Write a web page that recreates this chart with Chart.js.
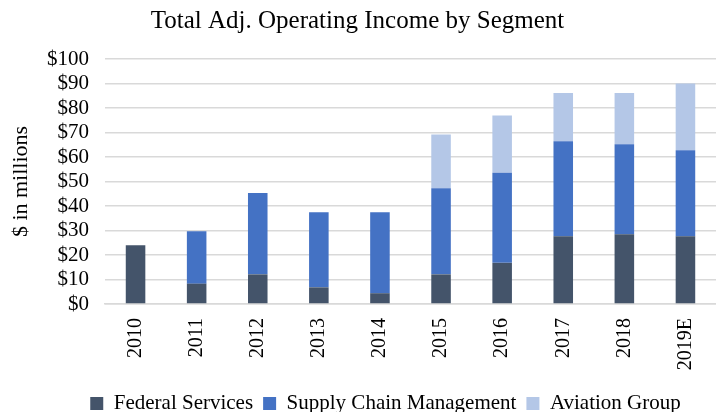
<!DOCTYPE html>
<html>
<head>
<meta charset="utf-8">
<script src="https://cdn.jsdelivr.net/npm/chart.js@4"></script>
<style>
  body { margin: 0; background: #fff; }
</style>
</head>
<body>
<canvas id="myChart" width="716" height="412"></canvas>
<script>
'use strict';

let years = ['2010', '2011', '2012', '2013', '2014', '2015', '2016', '2017', '2018', '2019E'];
let federalServices = [24, 8.3, 12.1, 6.8, 4.4, 12.1, 16.8, 27.7, 28.5, 27.7];
let supplyChain = [0, 21.4, 33.2, 30.7, 33.1, 35.1, 36.8, 38.7, 36.7, 35.1];
let aviationGroup = [0, 0, 0, 0, 0, 22, 23.3, 19.7, 20.9, 27.2];

const serif = '"Liberation Serif", "Times New Roman", serif';

// move title and legend to where they sit in the original
const blockShift = {
  id: 'blockShift',
  afterLayout(chart) {
    let lg = chart.legend;
    lg.left += 17;
    lg.right += 17;
    lg.top += 12;
    lg.bottom += 12;
    let tb = chart.titleBlock;
    tb.left -= 11;
    tb.right -= 11;
  }
};

const ctx = document.getElementById('myChart');

new Chart(ctx, {
  type: 'bar',
  data: {
    labels: years,
    datasets: [{
      label: 'Federal Services',
      data: federalServices,
      backgroundColor: '#44546A'
    },
    {
      label: 'Supply Chain Management',
      data: supplyChain,
      backgroundColor: '#4472C4'
    },
    {
      label: 'Aviation Group',
      data: aviationGroup,
      backgroundColor: '#B4C7E7'
    }]
  },
  plugins: [blockShift],
  options: {
    responsive: false,
    animation: false,
    // the original is cropped on the right, so the plot runs past the edge
    layout: { padding: { left: 8, right: -13, top: 0, bottom: 0 } },
    datasets: {
      bar: { barPercentage: 0.32, categoryPercentage: 1 }
    },
    plugins: {
      title: {
        display: true,
        text: 'Total Adj. Operating Income by Segment',
        color: '#000',
        font: { family: serif, size: 25, weight: 'normal' },
        padding: { top: 6, bottom: 23 }
      },
      legend: {
        position: 'bottom',
        labels: {
          color: '#000',
          font: { family: serif, size: 21 },
          boxWidth: 13,
          boxHeight: 13,
          padding: 10
        }
      },
      tooltip: { enabled: false }
    },
    scales: {
      x: {
        stacked: true,
        grid: { display: false, drawTicks: false },
        border: { color: '#d9d9d9', width: 1.5 },
        afterFit: function(axis) {
          axis.height = 67;
          axis.paddingLeft = 0;
          axis.paddingRight = 0;
        },
        ticks: {
          color: '#000',
          font: { family: serif, size: 20 },
          padding: 14,
          autoSkip: false,
          minRotation: 90,
          maxRotation: 90
        }
      },
      y: {
        stacked: true,
        min: 0,
        max: 100,
        border: { display: false },
        grid: { color: '#d9d9d9', lineWidth: 1.5, drawTicks: false },
        afterFit: function(axis) { axis.width = 97; },
        title: {
          display: true,
          text: '$ in millions',
          color: '#000',
          padding: { top: 0, bottom: 6 },
          font: { family: serif, size: 22 }
        },
        ticks: {
          stepSize: 10,
          autoSkip: false,
          color: '#000',
          padding: 16,
          font: { family: serif, size: 21 },
          callback: function(v) { return '$' + v; }
        }
      }
    }
  }
});
</script>
</body>
</html>
